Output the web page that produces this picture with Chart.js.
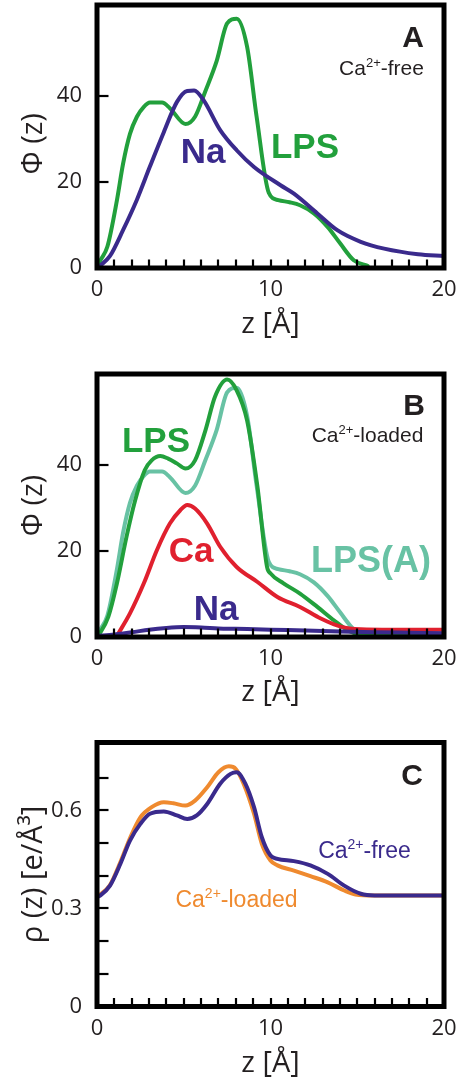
<!DOCTYPE html>
<html><head><meta charset="utf-8">
<script src="https://cdn.jsdelivr.net/npm/chart.js@4"></script>
<style>
html,body{margin:0;padding:0;background:#fff;}
body{width:464px;height:1083px;position:relative;overflow:hidden;}
.p{position:absolute;left:0;width:464px;}
canvas{display:block;}
</style></head><body>
<div class="p" style="top:0;height:345px"><canvas id="cA" width="464" height="345"></canvas></div>
<div class="p" style="top:345px;height:365px"><canvas id="cB" width="464" height="365"></canvas></div>
<div class="p" style="top:710px;height:373px"><canvas id="cC" width="464" height="373"></canvas></div>
<script>
// ---------- tick labels ----------
const zTicks = [0,1,2,3,4,5,6,7,8,9,10,11,12,13,14,15,16,17,18,19,20];
const zLabels = [0,10,20];
const phiTicks = [0,20,40];
const phiLabels = [0,20,40];
const rhoTicks = [0,0.1,0.2,0.3,0.4,0.5,0.6,0.7];
const rhoLabels = [0,0.3,0.6];

// ---------- Panel A (Ca2+-free) ----------
const zLpsFree = [0,0.2,0.6,1.15,1.5,1.9,2.3,2.7,3.05,3.75,4.2,5.1,5.65,6.25,6.9,7.5,8.05,8.65,9.2,9.9,10.45,11.1,11.7,12.5,13.3,14.0,14.8,15.6];
const lpsFree  = [0,1.8,5,15.8,24.2,31.2,35.2,37.5,38.5,38.5,37.2,33.5,35.2,41.2,48.2,56.9,58,51.5,35.2,17.5,15.8,15.3,14.6,12.7,9.5,5.8,1.8,0.5];
const zNaFree  = [0,0.2,0.75,1.5,2.3,3.05,3.85,4.6,5.2,5.6,6.15,7.1,8.05,9.05,10.6,11.35,12.7,13.85,15.2,16.55,18.5,20];
const naFree   = [0,0.6,2.8,8.8,15.9,23.6,31.6,38.6,41.2,41.3,39,32.1,27.4,23.5,19.2,17.3,12.7,8.8,6.1,4.5,3.2,2.8];

// ---------- Panel B (Ca2+-loaded) ----------
const zLpsLoaded = [0,0.15,0.65,1.15,1.7,2.2,2.75,3.15,3.65,4.1,4.6,5.1,5.65,6.25,6.8,7.5,8.05,8.65,9.25,9.8,10.0,10.75,11.7,12.7,13.65,14.45,15.2,17,20];
const lpsLoaded  = [0,0.8,4.7,12.5,23.3,31.8,38.8,41.1,42.1,41.5,40.4,39.2,41.1,48.1,55.9,59.9,57.4,50.4,34.9,16.3,14.8,12.5,10.1,7,3.9,1.6,0.6,0.4,0.4];
const zCa  = [1.2,1.9,2.7,3.45,4.2,4.8,5.2,5.65,6.35,7.1,8.05,9.25,10.4,11.7,12.9,14.05,15.2,17,20];
const caLoaded = [0.6,5.5,12.5,20.2,26.4,29.5,30.7,29.9,26.4,21,16.3,12.8,9.3,7,4.3,2.4,1.8,1.7,1.7];
const zNaLoaded = [0,1,2,3,4,5,6,7,8,10,12,14,16,18,20];
const naLoaded  = [0.2,0.6,1.1,1.7,2.1,2.3,2.2,2.0,1.9,1.7,1.5,1.3,1.1,1.0,0.9];

// ---------- Panel C (electron density) ----------
const zRhoFree = [0,0.2,0.75,1.35,1.9,2.5,3.05,3.85,4.6,5.2,5.75,6.35,7.1,7.7,8.05,8.55,9.05,9.5,10.0,10.4,11.35,12.3,13.3,14.25,15.2,16,20];
const rhoFree  = [0.335,0.340,0.370,0.437,0.508,0.559,0.590,0.597,0.585,0.574,0.585,0.620,0.682,0.712,0.717,0.682,0.610,0.518,0.462,0.452,0.445,0.432,0.406,0.370,0.345,0.340,0.340];
const zRhoLoaded = [0,0.75,1.35,1.9,2.5,3.15,3.85,4.4,5.1,5.65,6.35,7.0,7.6,8.0,8.45,9.05,9.5,10.0,10.4,11.35,12.3,13.3,14.25,14.9,16,20];
const rhoLoaded  = [0.335,0.372,0.442,0.515,0.579,0.610,0.625,0.622,0.615,0.630,0.671,0.717,0.735,0.727,0.682,0.590,0.498,0.447,0.432,0.416,0.399,0.380,0.355,0.343,0.340,0.340];

// ---------- styling ----------
const GREEN = '#22a03c', PURPLE = '#3a2a8c', TEAL = '#68c2a4', RED = '#e0202e', ORANGE = '#ef8a2f';
const INK = '#231f20';
const AXFONT = "'Open Sans', 'Liberation Sans', sans-serif";
const LBFONT = "'Liberation Sans', Arial, sans-serif";

function pts(zs, vs){ return zs.map((z,i)=>({x:z, y:vs[i]})); }
function line(label, zs, vs, color, order){
  return {label, data: pts(zs, vs), borderColor: color, backgroundColor: color, borderWidth: 4,
    pointRadius: 0, cubicInterpolationMode: 'monotone', borderJoinStyle: 'round', borderCapStyle: 'round', order};
}

function drawRich(ctx, n){
  const base = `${n.bold ? 'bold ' : ''}${n.size}px ${LBFONT}`;
  const sup = `${n.bold ? 'bold ' : ''}${Math.round(n.size*0.62)}px ${LBFONT}`;
  let w = 0;
  const widths = n.parts.map(p => { ctx.font = p.sup ? sup : base; const m = ctx.measureText(p.t).width; w += m; return m; });
  let x = n.align === 'right' ? n.x - w : (n.align === 'left' ? n.x : n.x - w/2);
  ctx.fillStyle = n.color; ctx.textBaseline = 'alphabetic'; ctx.textAlign = 'left';
  n.parts.forEach((p,i) => {
    ctx.font = p.sup ? sup : base;
    ctx.fillText(p.t, x, p.sup ? n.y - n.size*0.38 : n.y);
    x += widths[i];
  });
}

const framePlugin = {
  id: 'frame',
  afterDatasetsDraw(chart, args, opts){
    const {ctx, chartArea: a, scales: {x, y}} = chart;
    ctx.save();
    ctx.strokeStyle = '#000'; ctx.lineWidth = 2.2; ctx.lineCap = 'butt';
    x.ticks.forEach(t => {
      if (t.value <= x.min || t.value >= x.max) return;
      const px = Math.round(x.getPixelForValue(t.value));
      ctx.beginPath(); ctx.moveTo(px, a.bottom); ctx.lineTo(px, a.bottom - opts.xLen); ctx.stroke();
    });
    y.ticks.forEach(t => {
      if (t.value <= y.min || t.value >= y.max) return;
      const py = Math.round(y.getPixelForValue(t.value));
      ctx.beginPath(); ctx.moveTo(a.left, py); ctx.lineTo(a.left + opts.yLen, py); ctx.stroke();
    });
    ctx.lineWidth = 5;
    ctx.strokeRect(a.left, a.top, a.right - a.left, a.bottom - a.top);
    (opts.notes || []).forEach(n => drawRich(ctx, n));
    ctx.restore();
  }
};

function makeChart(id, p){
  return new Chart(document.getElementById(id), {
    type: 'line',
    data: { datasets: p.datasets },
    plugins: [framePlugin],
    options: {
      responsive: false, animation: false, devicePixelRatio: 1,
      layout: { padding: { left: 0, right: 20, top: p.top, bottom: 0 } },
      plugins: { legend: { display: false }, tooltip: { enabled: false },
        frame: { xLen: 8.5, yLen: 11.5, notes: p.notes } },
      scales: {
        x: {
          type: 'linear', min: 0, max: 20,
          afterBuildTicks: s => { s.ticks = zTicks.map(v => ({value: v})); },
          afterFit: s => { s.height = p.xH; s.paddingLeft = 0; s.paddingRight = 0; },
          ticks: { autoSkip: false, maxRotation: 0, minRotation: 0, padding: 9, color: INK,
            font: { family: AXFONT, size: 22 },
            callback: v => zLabels.includes(v) ? String(v) : '' },
          grid: { display: false, drawTicks: false },
          border: { display: false },
          title: { display: true, text: 'z [Å]', color: INK, font: { family: AXFONT, size: 29 },
            padding: { top: 0, bottom: p.xtPad } }
        },
        y: {
          type: 'linear', min: 0, max: p.ymax,
          afterBuildTicks: s => { s.ticks = p.yTicks.map(v => ({value: v})); },
          afterFit: s => { s.width = 97; s.paddingTop = 0; s.paddingBottom = 0; },
          ticks: { autoSkip: false, padding: 15, color: INK, font: { family: AXFONT, size: 22 },
            callback: v => p.yLabels.includes(v) ? String(v) : '' },
          grid: { display: false, drawTicks: false },
          border: { display: false },
          title: { display: true, text: p.ytitle, color: INK, font: { family: AXFONT, size: 29 },
            padding: { top: 16, bottom: 0 } }
        }
      }
    }
  });
}

// Panel A
makeChart('cA', {
  top: 5, xH: 77, xtPad: 3, ymax: 61.2, yTicks: phiTicks, yLabels: phiLabels, ytitle: 'Φ (z)\u2002',
  datasets: [
    line('Na', zNaFree, naFree, PURPLE, 1),
    line('LPS', zLpsFree, lpsFree, GREEN, 2)
  ],
  notes: [
    {x: 203, y: 163, size: 35, bold: true, color: PURPLE, parts: [{t: 'Na'}]},
    {x: 305, y: 158, size: 35, bold: true, color: GREEN, parts: [{t: 'LPS'}]},
    {x: 424, y: 47, size: 30, bold: true, color: INK, align: 'right', parts: [{t: 'A'}]},
    {x: 381.5, y: 75, size: 21, color: INK, parts: [{t: 'Ca'}, {t: '2+', sup: true}, {t: '-free'}]}
  ]
});

// Panel B
makeChart('cB', {
  top: 29, xH: 73, xtPad: 0, ymax: 61.2, yTicks: phiTicks, yLabels: phiLabels, ytitle: 'Φ (z)',
  datasets: [
    line('Na', zNaLoaded, naLoaded, PURPLE, 1),
    line('Ca', zCa, caLoaded, RED, 2),
    line('LPS', zLpsLoaded, lpsLoaded, GREEN, 3),
    line('LPS(A)', zLpsFree, lpsFree, TEAL, 4)
  ],
  notes: [
    {x: 156, y: 107, size: 35, bold: true, color: GREEN, parts: [{t: 'LPS'}]},
    {x: 191, y: 217, size: 35, bold: true, color: RED, parts: [{t: 'Ca'}]},
    {x: 371, y: 227, size: 36, bold: true, color: TEAL, parts: [{t: 'LPS(A)'}]},
    {x: 216, y: 275, size: 35, bold: true, color: PURPLE, parts: [{t: 'Na'}]},
    {x: 425, y: 70, size: 30, bold: true, color: INK, align: 'right', parts: [{t: 'B'}]},
    {x: 367.5, y: 97, size: 21, color: INK, parts: [{t: 'Ca'}, {t: '2+', sup: true}, {t: '-loaded'}]}
  ]
});

// Panel C
makeChart('cC', {
  top: 32.5, xH: 76.5, xtPad: 2, ymax: 0.808, yTicks: rhoTicks, yLabels: rhoLabels, ytitle: 'ρ (z) [e/Å³]',
  datasets: [
    line('Ca2+-free', zRhoFree, rhoFree, PURPLE, 1),
    line('Ca2+-loaded', zRhoLoaded, rhoLoaded, ORANGE, 2)
  ],
  notes: [
    {x: 423, y: 75, size: 30, bold: true, color: INK, align: 'right', parts: [{t: 'C'}]},
    {x: 364.5, y: 148, size: 23, color: PURPLE, parts: [{t: 'Ca'}, {t: '2+', sup: true}, {t: '-free'}]},
    {x: 236.5, y: 197, size: 23, color: ORANGE, parts: [{t: 'Ca'}, {t: '2+', sup: true}, {t: '-loaded'}]}
  ]
});
</script>
</body></html>
